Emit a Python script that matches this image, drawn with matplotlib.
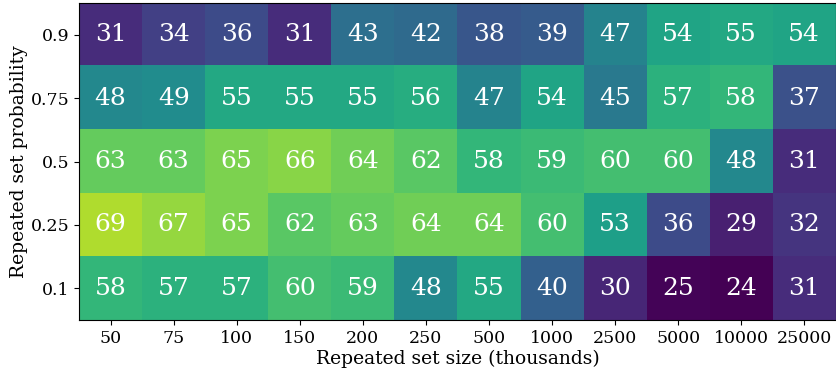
import matplotlib
matplotlib.use("Agg")
import matplotlib.pyplot as plt
import numpy as np

plt.rcParams['font.family'] = 'DejaVu Serif'

# set sizes (thousands) along x, probabilities along y (top to bottom)
set_sizes = ['50', '75', '100', '150', '200', '250', '500', '1000', '2500', '5000', '10000', '25000']
probabilities = ['0.9', '0.75', '0.5', '0.25', '0.1']

row_09 = [31, 34, 36, 31, 43, 42, 38, 39, 47, 54, 55, 54]
row_075 = [48, 49, 55, 55, 55, 56, 47, 54, 45, 57, 58, 37]
row_05 = [63, 63, 65, 66, 64, 62, 58, 59, 60, 60, 48, 31]
row_025 = [69, 67, 65, 62, 63, 64, 64, 60, 53, 36, 29, 32]
row_01 = [58, 57, 57, 60, 59, 48, 55, 40, 30, 25, 24, 31]

grid = np.array([row_09, row_075, row_05, row_025, row_01])

fig = plt.figure(figsize=(8.37, 3.68), dpi=100)
ax = fig.add_axes([0.0945, 0.13, 0.904, 0.862])
ax.imshow(grid, cmap='viridis', aspect='auto', vmin=24.5, vmax=75)

# annotate each cell with its value
for i in range(grid.shape[0]):
    for j in range(grid.shape[1]):
        ax.text(j, i, str(grid[i, j]), ha='center', va='center',
                color='white', fontsize=18)

ax.set_xticks(np.arange(len(set_sizes)))
ax.set_xticklabels(set_sizes, fontsize=12.5)
ax.set_yticks(np.arange(len(probabilities)))
ax.set_yticklabels(probabilities, fontsize=12.5)
ax.set_xlabel('Repeated set size (thousands)', fontsize=13.5, labelpad=2)
ax.set_ylabel('Repeated set probability', fontsize=13.5, labelpad=2)

fig.savefig('out.png', dpi=100)
